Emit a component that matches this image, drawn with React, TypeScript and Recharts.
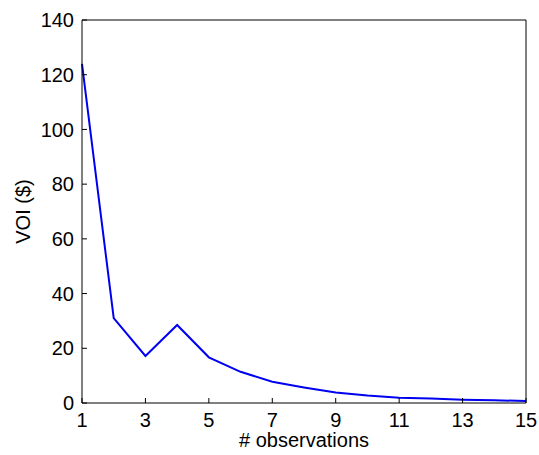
import { LineChart, Line, XAxis, YAxis, Label } from "recharts";

const observations = [1, 2, 3, 4, 5, 6, 7, 8, 9, 10, 11, 12, 13, 14, 15];
const voi = [124, 31, 17.2, 28.5, 16.7, 11.4, 7.8, 5.7, 3.8, 2.7, 1.9, 1.6, 1.2, 1.0, 0.7];
const xTicks = [1, 3, 5, 7, 9, 11, 13, 15];
const yTicks = [0, 20, 40, 60, 80, 100, 120, 140];

const data = observations.map((n, i) => ({ n, voi: voi[i] }));

const font = "'Liberation Sans', Arial, sans-serif";
const tickStyle = { fill: "#000", fontSize: 20, fontFamily: font };
const axisStroke = { stroke: "#000", strokeWidth: 1 };

export default function App() {
  return (
    <div style={{ position: "absolute", left: 0, top: 0, width: 539, height: 455, background: "#fff" }}>
      <LineChart
        width={539}
        height={455}
        data={data}
        margin={{ top: 0, right: 0, left: 0, bottom: 0 }}
      >
        <XAxis
          dataKey="n"
          type="number"
          domain={[1, 15]}
          ticks={xTicks}
          height={52}
          tick={tickStyle}
          tickSize={-5}
          tickMargin={15}
          axisLine={axisStroke}
          tickLine={axisStroke}
          interval={0}
        >
          <Label
            content={({ viewBox }: any) => (
              <text
                x={viewBox.x + viewBox.width / 2}
                y={447}
                textAnchor="middle"
                fontSize={20}
                fontFamily={font}
                fill="#000"
              >
                # observations
              </text>
            )}
          />
        </XAxis>
        <XAxis
          xAxisId="top"
          orientation="top"
          type="number"
          domain={[1, 15]}
          ticks={xTicks}
          height={20}
          tick={false}
          tickSize={-5}
          axisLine={axisStroke}
          tickLine={axisStroke}
        />
        <YAxis
          type="number"
          domain={[0, 140]}
          ticks={yTicks}
          width={82}
          tick={tickStyle}
          tickSize={-5}
          tickMargin={13}
          axisLine={axisStroke}
          tickLine={axisStroke}
          interval={0}
        >
          <Label
            content={({ viewBox }: any) => {
              const cy = viewBox.y + viewBox.height / 2;
              return (
                <text
                  x={30}
                  y={cy}
                  textAnchor="middle"
                  fontSize={20}
                  fontFamily={font}
                  fill="#000"
                  transform={`rotate(-90, 30, ${cy})`}
                >
                  VOI ($)
                </text>
              );
            }}
          />
        </YAxis>
        <YAxis
          yAxisId="right"
          orientation="right"
          type="number"
          domain={[0, 140]}
          ticks={yTicks}
          width={13}
          tick={false}
          tickSize={-5}
          axisLine={axisStroke}
          tickLine={axisStroke}
        />
        <Line
          type="linear"
          dataKey="voi"
          stroke="#0000f0"
          strokeWidth={2}
          dot={false}
          isAnimationActive={false}
        />
      </LineChart>
    </div>
  );
}
